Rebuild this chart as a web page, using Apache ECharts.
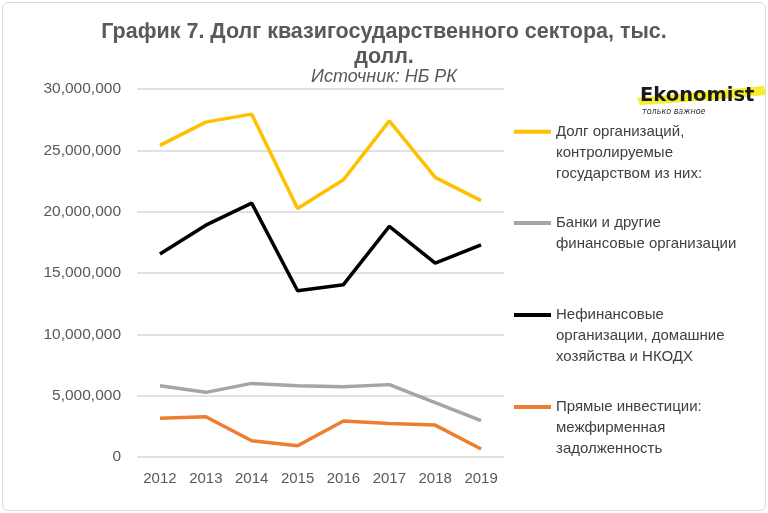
<!DOCTYPE html>
<html>
<head>
<meta charset="utf-8">
<script src="https://cdn.jsdelivr.net/npm/echarts@6/dist/echarts.min.js"></script>
<style>
html,body{margin:0;padding:0;background:#fff;}
#frame{position:absolute;left:2px;top:2px;width:762px;height:507px;border:1px solid #d9d9d9;border-radius:6px;}
#chart{position:absolute;left:0;top:0;width:768px;height:513px;}
</style>
</head>
<body>
<div id="frame"></div>
<div id="chart"></div>
<script>
const years = ['2012','2013','2014','2015','2016','2017','2018','2019'];
const seriesNames = [
  'Долг организаций, контролируемые государством из них:',
  'Банки и другие финансовые организации',
  'Нефинансовые организации, домашние хозяйства и НКОДХ',
  'Прямые инвестиции: межфирменная задолженность'
];
const legendLines = [
  'Долг организаций,\nконтролируемые\nгосударством из них:',
  'Банки и другие\nфинансовые организации',
  'Нефинансовые\nорганизации, домашние\nхозяйства и НКОДХ',
  'Прямые инвестиции:\nмежфирменная\nзадолженность'
];
const stateControlled = [25400000, 27300000, 27950000, 20250000, 22600000, 27400000, 22800000, 20900000];
const banks = [5800000, 5270000, 6000000, 5800000, 5730000, 5900000, 4430000, 2960000];
const nonFinancial = [16550000, 18900000, 20700000, 13550000, 14050000, 18800000, 15800000, 17300000];
const directInvestment = [3150000, 3280000, 1330000, 920000, 2930000, 2740000, 2600000, 650000];
const yTicks = [0, 5000000, 10000000, 15000000, 20000000, 25000000, 30000000];

const colors = ['#FFC000', '#A5A5A5', '#000000', '#ED7D31'];
const dataSets = [stateControlled, banks, nonFinancial, directInvestment];

const chart = echarts.init(document.getElementById('chart'), null, {renderer:'canvas'});

const LH = 21;
const iconCenters = [131.7, 223, 315, 407];
const legends = seriesNames.map((name, i) => {
  const lines = legendLines[i].split('\n');
  const n = lines.length;
  const padded = new Array(n - 1).fill(' ').concat(lines).join('\n');
  const top = iconCenters[i] - (LH * (2 * n - 1)) / 2;
  return {
    data: [name],
    orient: 'vertical',
    left: 514,
    top: top,
    padding: 0,
    icon: 'rect',
    itemWidth: 37,
    itemHeight: 4,
    itemGap: 0,
    selectedMode: false,
    formatter: () => padded,
    textStyle: {
      fontFamily: 'Liberation Sans, Arial, sans-serif',
      fontSize: 15,
      color: '#404040',
      lineHeight: LH
    }
  };
});

const option = {
  animation: false,
  backgroundColor: 'transparent',
  title: [
    {
      text: 'График 7. Долг квазигосударственного сектора, тыс.\nдолл.',
      left: 384, top: 20, textAlign: 'center', padding: 0,
      textStyle: {fontFamily: 'Liberation Sans, Arial, sans-serif', fontSize: 21.5, fontWeight: 'bold', color: '#595959', lineHeight: 25}
    },
    {
      text: 'Источник: НБ РК',
      left: 384, top: 68, textAlign: 'center', padding: 0,
      textStyle: {fontFamily: 'Liberation Sans, Arial, sans-serif', fontSize: 18, fontStyle: 'italic', fontWeight: 'normal', color: '#595959'}
    }
  ],
  legend: legends,
  grid: {left: 137, right: 264, top: 89, bottom: 56, containLabel: false},
  xAxis: {
    type: 'category',
    data: years,
    boundaryGap: true,
    axisLine: {show: false},
    axisTick: {show: false},
    axisLabel: {fontFamily: 'Liberation Sans, Arial, sans-serif', fontSize: 15, color: '#595959', margin: 14}
  },
  yAxis: {
    type: 'value',
    min: 0, max: 30000000, interval: 5000000,
    axisLine: {show: false},
    axisTick: {show: false},
    splitLine: {lineStyle: {color: '#d9d9d9', width: 1.5}},
    axisLabel: {
      fontFamily: 'Liberation Sans, Arial, sans-serif', fontSize: 15.5, color: '#595959', margin: 16,
      formatter: v => v.toLocaleString('en-US')
    }
  },
  series: seriesNames.map((name, i) => ({
    name: name,
    type: 'line',
    data: dataSets[i],
    showSymbol: false,
    symbol: 'none',
    lineStyle: {color: colors[i], width: 3.5},
    itemStyle: {color: colors[i]},
    z: 10 - i
  })),
  graphic: [
    {
      type: 'polygon',
      shape: {points: [[637, 98], [700, 92], [764, 86], [766, 95], [700, 101], [640, 105]]},
      style: {fill: '#F4EE2C'},
      z: 1
    },
    {
      type: 'text',
      left: 640, top: 86,
      style: {text: 'Ekonomist', fontFamily: 'DejaVu Sans, sans-serif', fontSize: 19.5, fontWeight: 'bold', fill: '#1a1a1a'},
      z: 2
    },
    {
      type: 'text',
      left: 642, top: 108,
      style: {text: 'только важное', fontFamily: 'DejaVu Sans, sans-serif', fontSize: 8, fontStyle: 'italic', fill: '#333'},
      z: 2
    }
  ]
};
chart.setOption(option);
</script>
</body>
</html>
